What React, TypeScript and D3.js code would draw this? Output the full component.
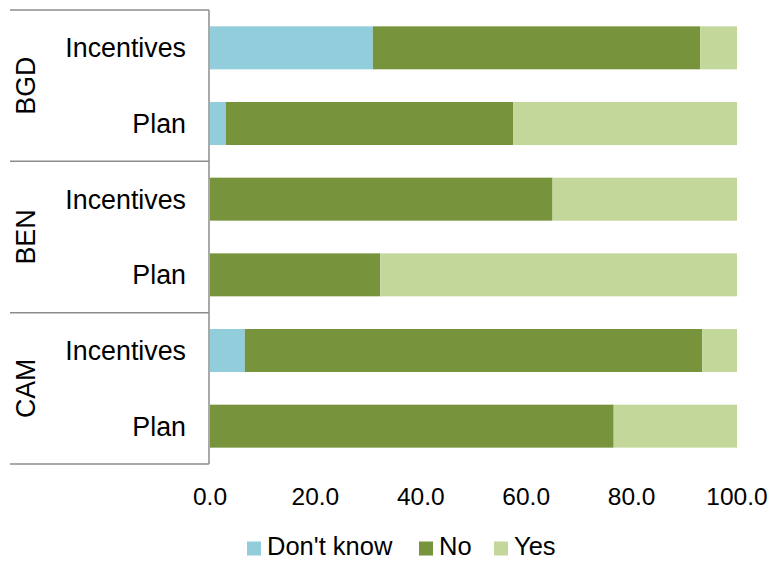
import React from "react";
import * as d3 from "d3";

// Survey answers per country, each row sums to 100
const countries = ["BGD", "BEN", "CAM"];
const questions = ["Incentives", "Plan"];
const seriesNames = ["Don't know", "No", "Yes"];
const seriesColors = ["#92CDDC", "#77933C", "#C4D79B"];

const dontKnow = [30.9, 3.0, 0.0, 0.0, 6.6, 0.0];
const no = [62.1, 54.5, 65.0, 32.3, 86.8, 76.6];
const yes = [7.0, 42.5, 35.0, 67.7, 6.6, 23.4];

const xTicks = [0, 20, 40, 60, 80, 100];

const W = 771;
const H = 561;
const plotLeft = 210;
const plotRight = 737;
const plotTop = 10;
const plotBottom = 464;
const font = "'Liberation Sans', Arial, sans-serif";

export default function App() {
  const rows = countries.flatMap((c) => questions.map((q) => ({ country: c, question: q, key: `${c}-${q}` })));
  const table = rows.map((r, i) => ({ key: r.key, "Don't know": dontKnow[i], No: no[i], Yes: yes[i] }));
  const stacked = d3.stack<any>().keys(seriesNames)(table);

  const x = d3.scaleLinear().domain([0, 100]).range([plotLeft, plotRight]);
  const y = d3
    .scaleBand<string>()
    .domain(rows.map((r) => r.key))
    .range([plotTop, plotBottom])
    .paddingInner(0.432)
    .paddingOuter(0.216);
  const g = d3
    .scaleBand<string>()
    .domain(countries)
    .range([plotTop, plotBottom]);

  const legendItems = [
    { name: seriesNames[0], x: 247 },
    { name: seriesNames[1], x: 419 },
    { name: seriesNames[2], x: 494 },
  ];

  return (
    <svg width={W} height={H} style={{ position: "absolute", left: 0, top: 0, background: "#fff" }}>
      {/* stacked bars */}
      {stacked.map((layer, si) => (
        <g key={layer.key} fill={seriesColors[si]}>
          {layer.map((d, i) =>
            d[1] - d[0] > 0 ? (
              <rect
                key={i}
                x={x(d[0])}
                y={y(rows[i].key)}
                width={x(d[1]) - x(d[0])}
                height={y.bandwidth()}
              />
            ) : null
          )}
        </g>
      ))}

      {/* category axis: group dividers and axis line */}
      <g stroke="#8c8c8c" strokeWidth={1.5}>
        {[...countries.map((c) => g(c)!), plotBottom].map((yy, i) => (
          <line key={i} x1={10} x2={plotLeft - 1} y1={yy} y2={yy} />
        ))}
        <line x1={plotLeft - 1} x2={plotLeft - 1} y1={plotTop} y2={plotBottom} />
      </g>

      {/* question labels */}
      <g fontFamily={font} fontSize={26.8} fill="#000" textAnchor="end">
        {rows.map((r) => (
          <text key={r.key} x={186} y={y(r.key)! + y.bandwidth() / 2 + 9.5}>
            {r.question}
          </text>
        ))}
      </g>

      {/* country labels */}
      <g fontFamily={font} fontSize={26.8} fill="#000" textAnchor="middle">
        {countries.map((c) => {
          const cy = g(c)! + g.bandwidth() / 2;
          return (
            <text key={c} transform={`translate(35,${cy}) rotate(-90)`}>
              {c}
            </text>
          );
        })}
      </g>

      {/* value axis tick labels */}
      <g fontFamily={font} fontSize={24.5} fill="#000" textAnchor="middle">
        {xTicks.map((t) => (
          <text key={t} x={x(t)} y={505}>
            {t.toFixed(1)}
          </text>
        ))}
      </g>

      {/* legend */}
      <g fontFamily={font} fontSize={25.5} fill="#000">
        {legendItems.map((it, i) => (
          <g key={it.name}>
            <rect x={it.x} y={541.5} width={14} height={14} fill={seriesColors[i]} />
            <text x={it.x + 20} y={555}>
              {it.name}
            </text>
          </g>
        ))}
      </g>
    </svg>
  );
}
